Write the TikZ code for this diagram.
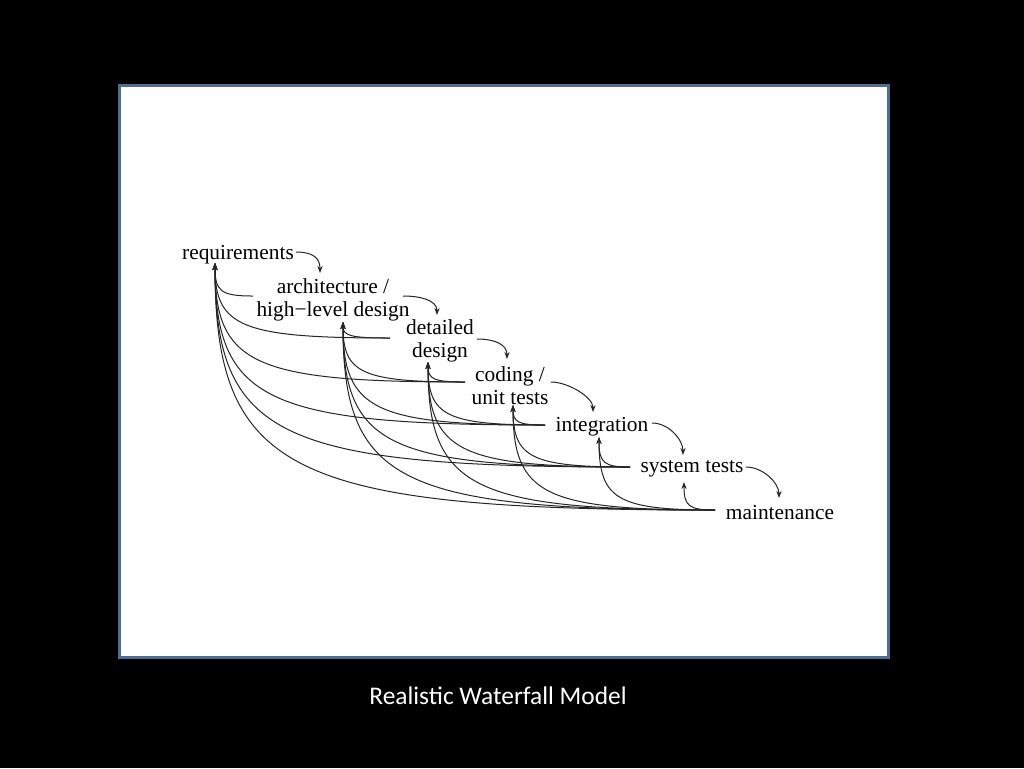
\documentclass[tikz,border=0pt]{standalone}
\usepackage{fontspec}
\setmainfont{Liberation Serif}
\newfontfamily\capfont{Carlito}
\usetikzlibrary{positioning,arrows.meta,calc}
\definecolor{PanelEdge}{RGB}{79,109,148}

\begin{document}
\begin{tikzpicture}[x=0.5pt,y=-0.5pt,
  font=\fontsize{10.7}{11.5}\selectfont,
  stage/.style={inner sep=0pt,align=center},
  ar/.style={-{Stealth[length=3.5pt,width=2.6pt]},draw=black!85,line width=0.5pt},
  fb/.style={ar},
]
% slide: black page, white panel, caption below
\fill[black] (0,0) rectangle (1024,768);
\draw[PanelEdge,line width=1.5pt,fill=white] (119,85) rectangle (888,657);
\node[text=white,font=\capfont\fontsize{12.7}{14}\selectfont] (cap) at (498,696) {Realistic Waterfall Model};

% the seven stages, stepping down to the right
\node[stage] (req)   at (238,255) {requirements};
\node[stage] (arch)  at (333,300) {architecture /\\high−level design};
\node[stage] (ddes)  at (440,341) {detailed\\design};
\node[stage] (code)  at (510,386) {coding /\\unit tests};
\node[stage] (integ) at (602,427) {integration};
\node[stage] (sys)   at (692,469) {system tests};
\node[stage] (maint) at (780,513) {maintenance};

% where the forward arrows leave and land
\coordinate (req-out)   at (296,252); \coordinate (arch-top)  at (320,273);
\coordinate (arch-out)  at (403,296); \coordinate (ddes-top)  at (437,315);
\coordinate (ddes-out)  at (477,339); \coordinate (code-top)  at (507,359);
\coordinate (code-out)  at (551,382); \coordinate (integ-top) at (593,412);
\coordinate (integ-out) at (652,423); \coordinate (sys-top)   at (683,455);
\coordinate (sys-out)   at (746,467); \coordinate (maint-top) at (779,498);
% feedback: each stage's stub on the left, each earlier stage's up arrow
\coordinate (arch-in)  at (253,296); \coordinate (req-up)   at (215,263);
\coordinate (ddes-in)  at (390,338); \coordinate (arch-up)  at (343,322);
\coordinate (code-in)  at (465,382); \coordinate (ddes-up)  at (428,362);
\coordinate (integ-in) at (545,425); \coordinate (code-up)  at (513,405);
\coordinate (sys-in)   at (630,467); \coordinate (integ-up) at (599,437);
\coordinate (maint-in) at (715,510); \coordinate (sys-up)   at (684,482);

\foreach \a/\b in {req/arch,arch/ddes,ddes/code,code/integ,integ/sys,sys/maint}
  \draw[ar] (\a-out) .. controls +(17,0) and +(0,-15) .. (\b-top);

% every later stage feeds back to every earlier one
\foreach \s/\tl in {arch/{req},ddes/{req,arch},code/{req,arch,ddes},
    integ/{req,arch,ddes,code},sys/{req,arch,ddes,code,integ},
    maint/{req,arch,ddes,code,integ,sys}}
  \foreach \t in \tl
    \draw[fb] (\s-in) .. controls ($(\t-up|-\s-in)!.15!(\s-in)$)
      and ($(\t-up)!.85!(\t-up|-\s-in)$) .. (\t-up);
\end{tikzpicture}
\end{document}
